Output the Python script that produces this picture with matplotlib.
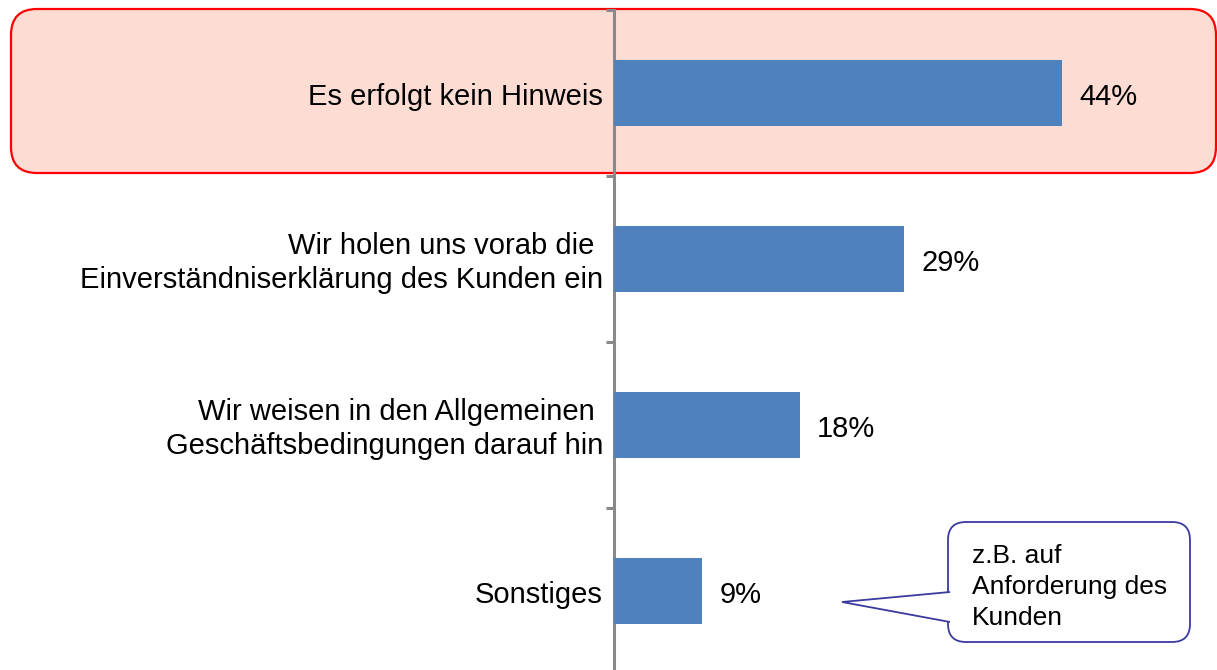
import matplotlib
matplotlib.use("Agg")
import matplotlib.pyplot as plt
from matplotlib.patches import FancyBboxPatch, Polygon
from matplotlib.transforms import IdentityTransform, offset_copy

plt.rcParams['font.family'] = ['Liberation Sans', 'DejaVu Sans']

categories = [
    "Es erfolgt kein Hinweis",
    "Wir holen uns vorab die \nEinverständniserklärung des Kunden ein",
    "Wir weisen in den Allgemeinen \nGeschäftsbedingungen darauf hin",
    "Sonstiges",
]
values = [44.4, 28.7, 18.4, 8.7]
value_labels = ["44%", "29%", "18%", "9%"]
callout_text = "z.B. auf\nAnforderung des\nKunden"

W, H = 1217, 670
fig = plt.figure(figsize=(W / 100, H / 100), dpi=100)
fig.patch.set_facecolor("white")

# highlight box behind first row (pixel coordinates)
hl = FancyBboxPatch((11, H - 173), 1205, 164,
                    boxstyle="round,pad=0,rounding_size=26",
                    transform=IdentityTransform(), facecolor="#FDDCD4",
                    edgecolor="#FF0000", linewidth=1.6, zorder=0)
fig.patches.append(hl)

ax = fig.add_axes([614 / W, -4 / H, (W - 614) / W, 664 / H])
ax.set_facecolor("none")
ax.set_zorder(1)

y = list(range(len(categories)))
ax.barh(y, values, height=0.40, color="#4F81BD", zorder=3)
ax.set_ylim(len(categories) - 0.5, -0.5)
ax.set_xlim(0, (W - 614) / 10.1)

for yi, v, lab in zip(y, values, value_labels):
    ax.annotate(lab, (v, yi), xytext=(12.5, -3), textcoords="offset points",
                va="center", ha="left", fontsize=21, color="black")

# category labels, right-aligned left of the axis
shift = offset_copy(ax.get_yaxis_transform(), fig=fig, x=-8, y=-3, units="points")
for yi, cat in zip(y, categories):
    ax.text(0, yi, cat, transform=shift, ha="right", va="center",
            multialignment="right", fontsize=21, linespacing=1.3)

ax.set_yticks([i - 0.5 for i in range(len(categories) + 1)])
ax.set_yticklabels([])
ax.tick_params(axis="y", which="major", length=5.5, width=2.2, color="#898989", direction="out")

ax.set_xticks([])
for s in ["top", "right", "bottom"]:
    ax.spines[s].set_visible(False)
ax.spines["left"].set_color("#898989")
ax.spines["left"].set_linewidth(2.2)

# callout bubble (pixel coordinates)
edge = "#3A3AA0"
box = FancyBboxPatch((948, H - 642), 242, 120,
                     boxstyle="round,pad=0,rounding_size=18",
                     transform=IdentityTransform(), facecolor="white",
                     edgecolor=edge, linewidth=1.3, zorder=5)
fig.patches.append(box)
ptr = Polygon([(950, H - 592), (842, H - 602), (950, H - 622)], closed=False,
              transform=IdentityTransform(), facecolor="white", edgecolor=edge,
              linewidth=1.3, zorder=6)
fig.patches.append(ptr)
fig.text(972 / W, (H - 587) / H, callout_text, fontsize=19, ha="left", va="center",
         linespacing=1.35, zorder=7)

fig.savefig("out.png", dpi=100)
